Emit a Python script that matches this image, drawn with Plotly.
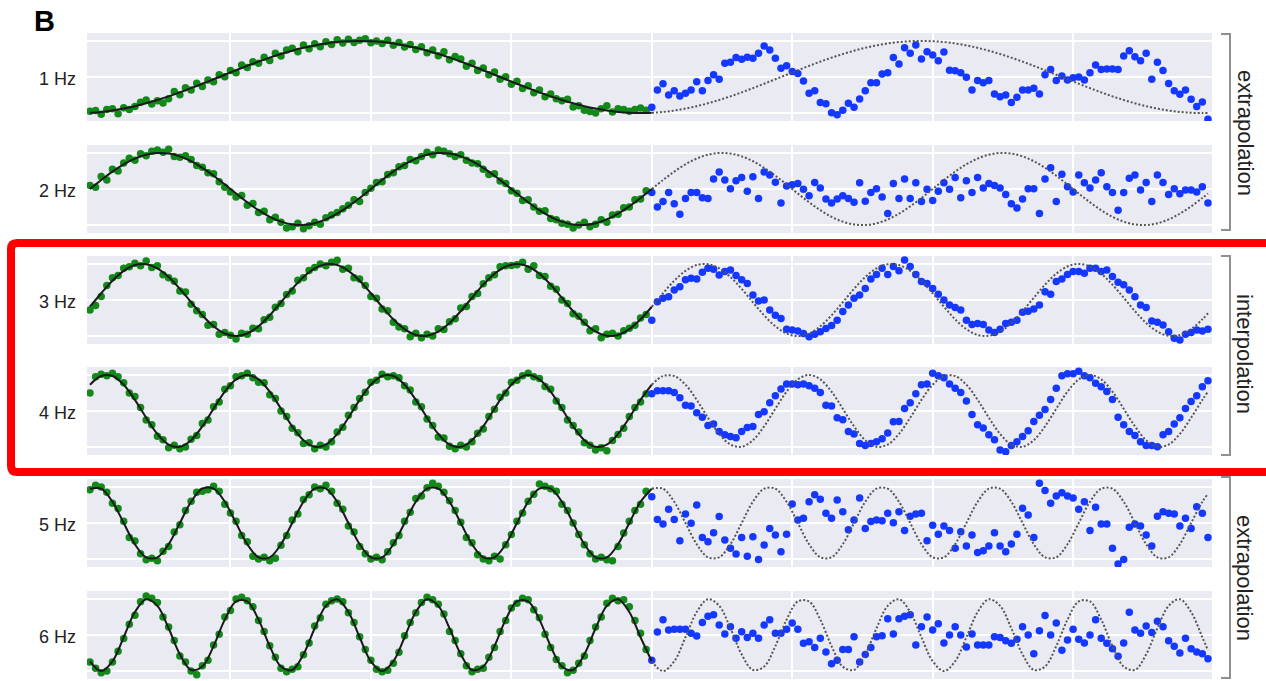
import plotly.graph_objects as go

W, H = 1266, 681

# ---------------- data ----------------
freq_labels = ["1 Hz", "2 Hz", "3 Hz", "4 Hz", "5 Hz", "6 Hz"]
region_labels = ["extrapolation", "interpolation", "extrapolation"]
panel_letter = "B"

# sample times (s): training half and test half, 100 samples per second
t_green = [i / 100 for i in range(100)]
t_blue = [1 + i / 100 for i in range(100)]
# model curve sample times
t_fit = [k / 50 for k in range(51)]
t_extrap = [1 + k / 50 for k in range(50)] + [1.99]

green_1 = [-0.95, -0.93, -1.03, -0.90, -0.88, -1.02, -0.85, -0.90, -0.82, -0.70,
           -0.64, -0.75, -0.66, -0.72, -0.60, -0.40, -0.49, -0.30, -0.36, -0.17,
           -0.26, -0.08, -0.13, 0.06, 0.01, 0.18, 0.12, 0.33, 0.26, 0.42,
           0.38, 0.55, 0.46, 0.66, 0.58, 0.75, 0.80, 0.70, 0.89, 0.78,
           0.92, 0.84, 0.98, 0.90, 1.03, 0.94, 1.05, 0.96, 1.02, 1.06,
           0.95, 1.00, 0.93, 1.02, 0.88, 0.96, 0.83, 0.90, 0.76, 0.84,
           0.67, 0.75, 0.59, 0.70, 0.48, 0.57, 0.50, 0.30, 0.38, 0.18,
           0.25, 0.06, 0.14, -0.06, 0.01, -0.20, -0.12, -0.32, -0.24, -0.44,
           -0.36, -0.55, -0.47, -0.60, -0.66, -0.62, -0.83, -0.80, -0.92, -0.96,
           -1.00, -0.88, -0.80, -0.97, -0.88, -0.90, -0.95, -0.90, -0.86, -0.92]
green_2 = [0.10, 0.05, 0.35, 0.25, 0.55, 0.50, 0.72, 0.85, 0.80, 0.98,
           0.92, 1.05, 1.08, 1.02, 1.10, 0.90, 0.88, 0.92, 0.82, 0.65,
           0.60, 0.45, 0.42, 0.20, 0.05, -0.08, -0.22, -0.18, -0.45, -0.40,
           -0.65, -0.62, -0.85, -0.78, -0.92, -1.08, -1.05, -0.95, -1.10, -1.02,
           -0.92, -0.98, -0.80, -0.72, -0.65, -0.55, -0.45, -0.30, -0.35, -0.10,
           0.02, 0.18, 0.20, 0.40, 0.45, 0.62, 0.65, 0.82, 0.78, 0.90,
           1.02, 0.95, 1.08, 1.05, 0.98, 0.90, 0.95, 0.80, 0.72, 0.70,
           0.55, 0.40, 0.42, 0.22, 0.15, -0.05, -0.12, -0.32, -0.30, -0.50,
           -0.62, -0.60, -0.82, -0.85, -0.95, -0.98, -1.08, -1.00, -0.92, -1.05,
           -0.98, -0.85, -0.92, -0.72, -0.70, -0.52, -0.50, -0.30, -0.28, -0.05]
green_3 = [-0.28, -0.15, 0.10, 0.40, 0.62, 0.68, 0.88, 0.92, 1.02, 0.95,
           1.08, 0.90, 0.95, 0.70, 0.62, 0.52, 0.25, 0.22, -0.12, -0.30,
           -0.40, -0.70, -0.68, -0.95, -0.90, -0.98, -1.08, -0.92, -0.95, -0.78,
           -0.80, -0.55, -0.48, -0.20, -0.10, 0.15, 0.25, 0.55, 0.62, 0.82,
           0.90, 1.00, 0.95, 1.05, 1.10, 0.85, 0.88, 0.62, 0.58, 0.40,
           0.10, 0.05, -0.25, -0.30, -0.62, -0.75, -0.80, -1.02, -0.92, -1.05,
           -0.95, -1.00, -0.80, -0.82, -0.60, -0.52, -0.22, -0.18, 0.10, 0.18,
           0.45, 0.62, 0.70, 0.92, 0.95, 0.96, 0.98, 1.05, 0.85, 0.95,
           0.68, 0.65, 0.38, 0.30, 0.00, -0.10, -0.38, -0.45, -0.62, -0.85,
           -0.80, -1.05, -0.95, -0.92, -1.00, -0.85, -0.78, -0.70, -0.50, -0.40]
green_4 = [0.50, 0.95, 1.02, 0.98, 1.05, 0.95, 0.78, 0.50, 0.40, 0.10,
           -0.25, -0.38, -0.70, -0.80, -1.02, -0.95, -1.05, -1.00, -0.78, -0.68,
           -0.35, -0.25, 0.12, 0.25, 0.60, 0.70, 0.95, 0.98, 1.05, 0.92,
           0.80, 0.78, 0.45, 0.35, 0.00, -0.15, -0.48, -0.60, -0.90, -0.88,
           -1.05, -0.95, -1.00, -0.85, -0.58, -0.45, -0.12, 0.10, 0.35, 0.52,
           0.80, 0.85, 1.02, 0.95, 0.98, 0.92, 0.70, 0.58, 0.25, 0.12,
           -0.22, -0.40, -0.72, -0.75, -0.98, -1.05, -0.95, -1.00, -0.85, -0.62,
           -0.50, -0.15, 0.05, 0.38, 0.50, 0.80, 0.85, 0.98, 1.05, 0.95,
           0.90, 0.68, 0.60, 0.28, 0.10, -0.25, -0.40, -0.58, -0.88, -0.95,
           -1.08, -1.02, -1.10, -0.82, -0.65, -0.48, -0.15, 0.10, 0.25, 0.48]
green_5 = [0.92, 1.05, 1.00, 0.85, 0.55, 0.40, 0.05, -0.40, -0.50, -0.85,
           -1.02, -0.98, -1.05, -0.78, -0.65, -0.25, -0.05, 0.35, 0.60, 0.85,
           0.88, 0.92, 1.02, 0.88, 0.52, 0.28, 0.05, -0.35, -0.52, -0.92,
           -1.00, -0.95, -1.05, -0.98, -0.62, -0.35, 0.08, 0.25, 0.65, 0.78,
           1.00, 0.95, 1.05, 0.88, 0.55, 0.38, -0.08, -0.25, -0.65, -0.85,
           -1.00, -0.95, -1.02, -0.80, -0.55, -0.35, 0.05, 0.30, 0.68, 0.75,
           0.98, 1.10, 1.02, 0.85, 0.62, 0.35, 0.02, -0.40, -0.55, -0.88,
           -1.00, -1.05, -0.92, -1.00, -0.60, -0.32, 0.05, 0.28, 0.60, 0.80,
           1.08, 1.02, 0.95, 0.88, 0.52, 0.35, 0.00, -0.32, -0.60, -0.85,
           -1.00, -0.95, -1.02, -1.05, -0.65, -0.28, 0.05, 0.35, 0.52, 0.88]
green_6 = [-0.75, -0.92, -1.05, -1.00, -0.75, -0.45, -0.10, 0.30, 0.55, 0.92,
           1.08, 1.02, 0.90, 0.50, 0.22, -0.15, -0.58, -0.75, -1.00, -1.10,
           -0.85, -0.70, -0.28, 0.02, 0.50, 0.68, 1.00, 1.05, 0.95, 0.78,
           0.40, 0.10, -0.30, -0.62, -0.92, -1.02, -0.95, -0.88, -0.55, -0.22,
           0.25, 0.48, 0.85, 0.95, 1.00, 0.92, 0.62, 0.35, -0.05, -0.40,
           -0.70, -0.95, -1.02, -0.98, -0.78, -0.48, -0.02, 0.35, 0.62, 0.90,
           1.05, 0.98, 0.85, 0.58, 0.10, -0.15, -0.52, -0.85, -1.02, -0.95,
           -0.92, -0.62, -0.35, 0.10, 0.40, 0.75, 0.88, 1.02, 0.98, 0.70,
           0.48, 0.02, -0.35, -0.68, -0.85, -1.05, -0.98, -0.78, -0.58, -0.15,
           0.22, 0.50, 0.88, 1.02, 0.95, 0.98, 0.78, 0.40, 0.05, -0.40]

blue_1 = [-0.84, -0.36, -0.19, -0.50, -0.38, -0.53, -0.45, -0.36, -0.13, -0.38,
          -0.10, 0.06, -0.06, 0.38, 0.41, 0.54, 0.49, 0.55, 0.52, 0.66,
          0.86, 0.75, 0.52, 0.24, 0.31, 0.15, 0.10, -0.11, -0.45, -0.38,
          -0.71, -0.74, -0.99, -1.05, -0.92, -0.73, -0.84, -0.61, -0.38, -0.16,
          -0.16, 0.08, 0.12, 0.54, 0.36, 0.81, 0.66, 0.89, 0.50, 0.70,
          0.61, 0.45, 0.69, 0.19, 0.17, 0.12, -0.01, -0.36, -0.10, -0.16,
          -0.10, -0.47, -0.55, -0.50, -0.71, -0.56, -0.36, -0.36, -0.31, -0.47,
          0.06, 0.21, -0.10, 0.03, -0.08, -0.02, 0.00, -0.08, 0.12, 0.33,
          0.21, 0.22, 0.22, 0.21, 0.58, 0.73, 0.56, 0.45, 0.66, -0.06,
          0.41, 0.18, -0.18, -0.38, -0.48, -0.36, -0.62, -0.82, -0.69, -1.17]
blue_2 = [-0.10, -0.50, -0.35, -0.10, -0.41, -0.70, -0.26, -0.10, -0.10, -0.24,
          -0.26, 0.28, 0.47, 0.25, 0.01, 0.23, 0.32, -0.06, 0.34, -0.26,
          0.47, 0.39, 0.19, -0.39, 0.08, 0.12, 0.15, -0.01, -0.19, 0.18,
          0.03, -0.28, -0.39, -0.28, -0.19, -0.26, -0.37, 0.17, -0.34, -0.10,
          0.01, -0.22, -0.68, 0.15, -0.26, 0.28, -0.26, 0.17, -0.35, -0.01,
          -0.32, -0.06, 0.17, -0.01, 0.32, -0.24, 0.23, -0.10, 0.32, 0.03,
          0.15, 0.10, 0.03, -0.15, -0.41, -0.53, -0.28, 0.01, 0.01, -0.68,
          0.28, 0.59, -0.35, 0.41, 0.06, -0.08, 0.39, 0.17, 0.03, 0.25,
          0.45, 0.06, -0.10, -0.59, -0.10, 0.30, 0.39, -0.03, 0.18, -0.35,
          0.39, 0.18, -0.15, 0.01, -0.13, -0.03, -0.03, -0.08, 0.06, -0.39]
blue_3 = [-0.56, -0.05, 0.05, 0.09, 0.28, 0.37, 0.56, 0.60, 0.58, 0.77,
          0.88, 0.85, 0.69, 0.79, 0.83, 0.68, 0.56, 0.46, 0.14, -0.03,
          0.00, -0.28, -0.42, -0.51, -0.81, -0.83, -0.86, -0.93, -1.02, -0.95,
          -0.88, -0.79, -0.71, -0.56, -0.32, -0.14, 0.05, 0.14, 0.32, 0.58,
          0.71, 0.88, 0.71, 0.93, 0.81, 1.11, 0.93, 0.71, 0.51, 0.46,
          0.32, 0.16, 0.00, -0.14, -0.21, -0.28, -0.56, -0.68, -0.65, -0.68,
          -0.83, -0.90, -0.81, -0.65, -0.62, -0.56, -0.34, -0.31, -0.25, -0.14,
          0.23, 0.16, 0.51, 0.58, 0.71, 0.79, 0.79, 0.74, 0.88, 0.88,
          0.79, 0.83, 0.65, 0.49, 0.42, 0.28, 0.09, -0.14, -0.21, -0.58,
          -0.62, -0.69, -0.88, -1.06, -1.11, -0.95, -0.90, -0.83, -0.86, -0.81]
blue_4 = [0.48, 0.56, 0.56, 0.56, 0.51, 0.37, 0.16, 0.14, -0.05, -0.17,
          -0.40, -0.36, -0.57, -0.66, -0.71, -0.74, -0.57, -0.46, -0.43, -0.10,
          -0.02, 0.23, 0.42, 0.61, 0.75, 0.75, 0.73, 0.75, 0.70, 0.63,
          0.51, 0.16, 0.14, -0.19, -0.24, -0.57, -0.64, -0.90, -0.96, -0.90,
          -0.85, -0.77, -0.61, -0.30, -0.29, 0.07, 0.23, 0.48, 0.73, 0.75,
          1.05, 0.98, 0.92, 0.75, 0.63, 0.51, 0.28, -0.10, -0.38, -0.47,
          -0.66, -0.80, -1.08, -1.13, -0.96, -0.85, -0.71, -0.55, -0.29, -0.12,
          0.04, 0.32, 0.63, 0.98, 1.03, 1.03, 1.10, 0.98, 0.92, 0.77,
          0.67, 0.54, 0.32, -0.17, -0.38, -0.57, -0.68, -0.85, -0.96, -0.96,
          -0.99, -0.66, -0.57, -0.36, -0.19, 0.07, 0.26, 0.42, 0.67, 0.84]
blue_5 = [0.73, 0.10, -0.03, 0.38, 0.10, -0.49, 0.25, -0.01, 0.50, -0.40,
          -0.52, -0.27, 0.18, -0.47, -0.70, -0.86, -0.40, -0.92, -0.38, -1.01,
          -0.61, -0.15, -0.33, -0.80, -0.31, 0.53, 0.08, 0.13, 0.59, 0.78,
          0.66, 0.27, 0.13, 0.64, 0.31, -0.19, 0.08, 0.69, -0.15, 0.04,
          0.08, 0.06, 0.27, 0.01, 0.31, -0.21, 0.19, 0.25, 0.27, -0.49,
          -0.06, -0.31, -0.08, -0.21, -0.70, -0.24, -0.64, -0.33, -0.82, -0.77,
          -0.64, -0.27, -0.64, -0.80, -0.58, -0.31, 0.41, 0.22, -0.40, 1.10,
          0.90, 0.55, 0.75, 0.84, 0.75, 0.69, 0.38, 0.59, -0.21, 0.44,
          -0.03, -0.03, -0.70, -1.14, -1.01, -0.12, -0.03, -0.08, -0.33, -0.64,
          0.19, 0.31, 0.27, 0.25, -0.08, 0.13, -0.15, 0.45, 0.27, -0.40]
blue_6 = [-0.70, 0.08, 0.42, 0.14, 0.16, 0.16, 0.16, 0.05, -0.03, 0.35,
          0.52, 0.56, 0.28, 0.03, 0.23, -0.09, 0.09, -0.07, 0.05, -0.09,
          0.28, 0.42, 0.05, 0.05, 0.16, 0.33, 0.16, -0.23, -0.19, -0.35,
          -0.09, -0.47, -0.80, -0.70, -0.40, -0.40, -0.05, -0.75, -0.54, -0.35,
          -0.05, -0.02, 0.45, 0.03, 0.45, 0.52, 0.56, -0.28, 0.23, 0.50,
          0.14, 0.31, -0.22, 0.00, 0.23, 0.00, -0.33, 0.03, -0.28, -0.28,
          -0.28, -0.05, -0.07, -0.16, -0.23, -0.12, 0.23, 0.00, -0.52, 0.12,
          0.54, 0.00, 0.33, -0.42, -0.14, 0.16, -0.12, -0.22, 0.00, 0.42,
          -0.09, -0.23, -0.38, -0.59, -0.22, 0.63, 0.14, 0.05, 0.25, 0.07,
          0.38, 0.23, -0.16, -0.31, -0.50, -0.09, -0.38, -0.47, -0.52, -0.66]

fit_1 = [-0.992, -0.969, -0.930, -0.876, -0.809, -0.729, -0.637, -0.536, -0.426, -0.309,
         -0.187, -0.063, 0.063, 0.187, 0.309, 0.426, 0.536, 0.637, 0.729, 0.809,
         0.876, 0.930, 0.969, 0.992, 1.000, 0.992, 0.969, 0.930, 0.876, 0.809,
         0.729, 0.637, 0.536, 0.426, 0.309, 0.187, 0.063, -0.063, -0.187, -0.309,
         -0.426, -0.536, -0.637, -0.729, -0.809, -0.876, -0.930, -0.969, -0.992, -1.000,
         -0.992]
extrap_1 = [-0.992, -0.969, -0.930, -0.876, -0.809, -0.729, -0.637, -0.536, -0.426, -0.309,
            -0.187, -0.063, 0.063, 0.187, 0.309, 0.426, 0.536, 0.637, 0.729, 0.809,
            0.876, 0.930, 0.969, 0.992, 1.000, 0.992, 0.969, 0.930, 0.876, 0.809,
            0.729, 0.637, 0.536, 0.426, 0.309, 0.187, 0.063, -0.063, -0.187, -0.309,
            -0.426, -0.536, -0.637, -0.729, -0.809, -0.876, -0.930, -0.969, -0.992, -1.000,
            -0.998]
fit_2 = [0.000, 0.249, 0.482, 0.685, 0.844, 0.951, 0.998, 0.982, 0.905, 0.771,
         0.588, 0.368, 0.125, -0.125, -0.368, -0.588, -0.771, -0.905, -0.982, -0.998,
         -0.951, -0.844, -0.685, -0.482, -0.249, 0.000, 0.249, 0.482, 0.685, 0.844,
         0.951, 0.998, 0.982, 0.905, 0.771, 0.588, 0.368, 0.125, -0.125, -0.368,
         -0.588, -0.771, -0.905, -0.982, -0.998, -0.951, -0.844, -0.685, -0.482, -0.249,
         0.000]
extrap_2 = [0.000, 0.249, 0.482, 0.685, 0.844, 0.951, 0.998, 0.982, 0.905, 0.771,
            0.588, 0.368, 0.125, -0.125, -0.368, -0.588, -0.771, -0.905, -0.982, -0.998,
            -0.951, -0.844, -0.685, -0.482, -0.249, 0.000, 0.249, 0.482, 0.685, 0.844,
            0.951, 0.998, 0.982, 0.905, 0.771, 0.588, 0.368, 0.125, -0.125, -0.368,
            -0.588, -0.771, -0.905, -0.982, -0.998, -0.951, -0.844, -0.685, -0.482, -0.249,
            -0.125]
fit_3 = [-0.187, 0.187, 0.536, 0.809, 0.969, 0.992, 0.876, 0.637, 0.309, -0.063,
         -0.426, -0.729, -0.930, -1.000, -0.930, -0.729, -0.426, -0.063, 0.309, 0.637,
         0.876, 0.992, 0.969, 0.809, 0.536, 0.187, -0.187, -0.536, -0.809, -0.969,
         -0.992, -0.876, -0.637, -0.309, 0.063, 0.426, 0.729, 0.930, 1.000, 0.930,
         0.729, 0.426, 0.063, -0.309, -0.637, -0.876, -0.992, -0.969, -0.809, -0.536,
         -0.187]
extrap_3 = [-0.187, 0.187, 0.536, 0.809, 0.969, 0.992, 0.876, 0.637, 0.309, -0.063,
            -0.426, -0.729, -0.930, -1.000, -0.930, -0.729, -0.426, -0.063, 0.309, 0.637,
            0.876, 0.992, 0.969, 0.809, 0.536, 0.187, -0.187, -0.536, -0.809, -0.969,
            -0.992, -0.876, -0.637, -0.309, 0.063, 0.426, 0.729, 0.930, 1.000, 0.930,
            0.729, 0.426, 0.063, -0.309, -0.637, -0.876, -0.992, -0.969, -0.809, -0.536,
            -0.368]
fit_4 = [0.729, 0.969, 0.969, 0.729, 0.309, -0.187, -0.637, -0.930, -0.992, -0.809,
         -0.426, 0.063, 0.536, 0.876, 1.000, 0.876, 0.536, 0.063, -0.426, -0.809,
         -0.992, -0.930, -0.637, -0.187, 0.309, 0.729, 0.969, 0.969, 0.729, 0.309,
         -0.187, -0.637, -0.930, -0.992, -0.809, -0.426, 0.063, 0.536, 0.876, 1.000,
         0.876, 0.536, 0.063, -0.426, -0.809, -0.992, -0.930, -0.637, -0.187, 0.309,
         0.729]
extrap_4 = [0.729, 0.969, 0.969, 0.729, 0.309, -0.187, -0.637, -0.930, -0.992, -0.809,
            -0.426, 0.063, 0.536, 0.876, 1.000, 0.876, 0.536, 0.063, -0.426, -0.809,
            -0.992, -0.930, -0.637, -0.187, 0.309, 0.729, 0.969, 0.969, 0.729, 0.309,
            -0.187, -0.637, -0.930, -0.992, -0.809, -0.426, 0.063, 0.536, 0.876, 1.000,
            0.876, 0.536, 0.063, -0.426, -0.809, -0.992, -0.930, -0.637, -0.187, 0.309,
            0.536]
fit_5 = [0.951, 0.951, 0.588, 0.000, -0.588, -0.951, -0.951, -0.588, 0.000, 0.588,
         0.951, 0.951, 0.588, 0.000, -0.588, -0.951, -0.951, -0.588, 0.000, 0.588,
         0.951, 0.951, 0.588, 0.000, -0.588, -0.951, -0.951, -0.588, 0.000, 0.588,
         0.951, 0.951, 0.588, 0.000, -0.588, -0.951, -0.951, -0.588, 0.000, 0.588,
         0.951, 0.951, 0.588, 0.000, -0.588, -0.951, -0.951, -0.588, 0.000, 0.588,
         0.951]
extrap_5 = [0.951, 0.951, 0.588, 0.000, -0.588, -0.951, -0.951, -0.588, 0.000, 0.588,
            0.951, 0.951, 0.588, 0.000, -0.588, -0.951, -0.951, -0.588, 0.000, 0.588,
            0.951, 0.951, 0.588, 0.000, -0.588, -0.951, -0.951, -0.588, 0.000, 0.588,
            0.951, 0.951, 0.588, 0.000, -0.588, -0.951, -0.951, -0.588, 0.000, 0.588,
            0.951, 0.951, 0.588, 0.000, -0.588, -0.951, -0.951, -0.588, 0.000, 0.588,
            0.809]
fit_6 = [-0.729, -1.000, -0.729, -0.063, 0.637, 0.992, 0.809, 0.187, -0.536, -0.969,
         -0.876, -0.309, 0.426, 0.930, 0.930, 0.426, -0.309, -0.876, -0.969, -0.536,
         0.187, 0.809, 0.992, 0.637, -0.063, -0.729, -1.000, -0.729, -0.063, 0.637,
         0.992, 0.809, 0.187, -0.536, -0.969, -0.876, -0.309, 0.426, 0.930, 0.930,
         0.426, -0.309, -0.876, -0.969, -0.536, 0.187, 0.809, 0.992, 0.637, -0.063,
         -0.729]
extrap_6 = [-0.729, -1.000, -0.729, -0.063, 0.637, 0.992, 0.809, 0.187, -0.536, -0.969,
            -0.876, -0.309, 0.426, 0.930, 0.930, 0.426, -0.309, -0.876, -0.969, -0.536,
            0.187, 0.809, 0.992, 0.637, -0.063, -0.729, -1.000, -0.729, -0.063, 0.637,
            0.992, 0.809, 0.187, -0.536, -0.969, -0.876, -0.309, 0.426, 0.930, 0.930,
            0.426, -0.309, -0.876, -0.969, -0.536, 0.187, 0.809, 0.992, 0.637, -0.063,
            -0.426]

greens = [green_1, green_2, green_3, green_4, green_5, green_6]
blues = [blue_1, blue_2, blue_3, blue_4, blue_5, blue_6]
fits = [fit_1, fit_2, fit_3, fit_4, fit_5, fit_6]
extraps = [extrap_1, extrap_2, extrap_3, extrap_4, extrap_5, extrap_6]

# ---------------- layout geometry (pixels) ----------------
row_centers = [77, 189, 300, 411, 523, 635]
half_h = 44
panel_left, panel_right = 87, 1212


def fx(px):
    return px / W


def fy(py):
    return 1 - py / H


FONT = "Liberation Sans, Arial, Helvetica, sans-serif"
GREEN = "#13891a"
BLUE = "#1438ff"

fig = go.Figure()
layout = dict(
    width=W, height=H,
    margin=dict(l=0, r=0, t=0, b=0),
    paper_bgcolor="white",
    plot_bgcolor="#EAEAF2",
    showlegend=False,
    hovermode=False,
)

for r in range(6):
    n = r + 1
    xa = "x" if n == 1 else f"x{n}"
    ya = "y" if n == 1 else f"y{n}"
    xkey = "xaxis" if n == 1 else f"xaxis{n}"
    ykey = "yaxis" if n == 1 else f"yaxis{n}"
    c = row_centers[r]
    layout[xkey] = dict(
        domain=[fx(panel_left), fx(panel_right)],
        range=[-0.0053, 1.9972],
        tickvals=[0.25, 0.5, 0.75, 1.0, 1.25, 1.5, 1.75],
        showticklabels=False, ticks="",
        showgrid=True, gridcolor="white", gridwidth=1.5,
        zeroline=False, showline=False, anchor=ya, fixedrange=True,
    )
    layout[ykey] = dict(
        domain=[fy(c + half_h), fy(c - half_h)],
        range=[-1.22, 1.22],
        tickvals=[-1, 0, 1],
        showticklabels=False, ticks="",
        showgrid=True, gridcolor="white", gridwidth=1.5,
        zeroline=False, showline=False, anchor=xa, fixedrange=True,
    )
    fig.add_trace(go.Scatter(
        x=t_green, y=greens[r], mode="markers", xaxis=xa, yaxis=ya,
        marker=dict(color=GREEN, size=7.5, line=dict(width=0)),
    ))
    fig.add_trace(go.Scatter(
        x=t_blue, y=blues[r], mode="markers", xaxis=xa, yaxis=ya,
        marker=dict(color=BLUE, size=7.5, line=dict(width=0)),
    ))
    fig.add_trace(go.Scatter(
        x=t_fit, y=fits[r], mode="lines", xaxis=xa, yaxis=ya,
        line=dict(color="#1a1a1a", width=2, shape="spline", smoothing=1.0),
    ))
    fig.add_trace(go.Scatter(
        x=t_extrap, y=extraps[r], mode="lines", xaxis=xa, yaxis=ya,
        line=dict(color="#555555", width=2, dash="2px,2px", shape="spline", smoothing=1.0),
    ))

annotations = []
annotations.append(dict(
    text="<b>" + panel_letter + "</b>", x=fx(32), y=fy(21), xref="paper", yref="paper",
    xanchor="left", yanchor="middle", showarrow=False,
    font=dict(family=FONT, size=29, color="black"),
))
for r in range(6):
    annotations.append(dict(
        text=freq_labels[r], x=fx(78), y=fy(row_centers[r] + 2), xref="paper", yref="paper",
        xanchor="right", yanchor="middle", showarrow=False,
        font=dict(family=FONT, size=18, color="#222222"),
    ))

brackets = [(34, 230), (256, 455), (477, 678)]
label_centers = [133, 354, 578]
shapes = []
for (top, bot), lab, yc in zip(brackets, region_labels, label_centers):
    path = (f"M {fx(1221)},{fy(top)} L {fx(1230)},{fy(top)} "
            f"L {fx(1230)},{fy(bot)} L {fx(1221)},{fy(bot)}")
    shapes.append(dict(type="path", path=path, xref="paper", yref="paper",
                       line=dict(color="#909090", width=2)))
    annotations.append(dict(
        text=lab, x=fx(1245), y=fy(yc), xref="paper", yref="paper",
        xanchor="center", yanchor="middle", textangle=90, showarrow=False,
        font=dict(family=FONT, size=22, color="#222222"),
    ))

# red highlight box around the interpolation rows
rx0, ry0, ry1, rr = 11, 243, 472, 6
red_path = (f"M {fx(1290)},{fy(ry0)} L {fx(rx0 + rr)},{fy(ry0)} "
            f"Q {fx(rx0)},{fy(ry0)} {fx(rx0)},{fy(ry0 + rr)} "
            f"L {fx(rx0)},{fy(ry1 - rr)} "
            f"Q {fx(rx0)},{fy(ry1)} {fx(rx0 + rr)},{fy(ry1)} "
            f"L {fx(1290)},{fy(ry1)}")
shapes.append(dict(type="path", path=red_path, xref="paper", yref="paper",
                   line=dict(color="#ff0000", width=8)))

layout["annotations"] = annotations
layout["shapes"] = shapes
fig.update_layout(**layout)

fig.write_html("out.html")
